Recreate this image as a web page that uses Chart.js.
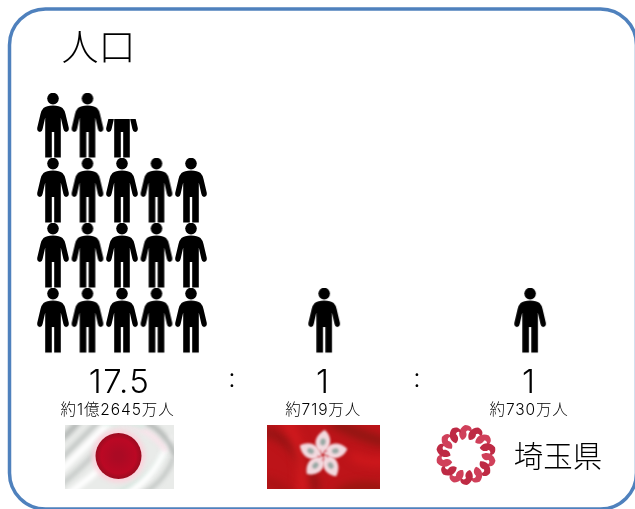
<!DOCTYPE html>
<html>
<head>
<meta charset="utf-8">
<style>
  html, body { margin: 0; padding: 0; background: #fff; overflow: hidden; }
  #wrap { position: relative; width: 635px; height: 509px; }
</style>
<script src="https://cdn.jsdelivr.net/npm/chart.js@4/dist/chart.umd.min.js"></script>
</head>
<body>
<div id="wrap"><canvas id="chart"></canvas></div>
<script>
/* ── Data ──────────────────────────────────────────────────── */
const chartTitle  = '人口';
const categories  = ['日本', '香港', '埼玉県'];
const ratios      = [17.5, 1, 1];
const ratioLabels = ['17.5', '1', '1'];
const popLabels   = ['約1億2645万人', '約719万人', '約730万人'];

/* ── Layout (in axis units: one unit = one person slot) ────── */
const PER_ROW = 5;
const GROUP_X = [0, 7.86, 13.83];
const FONT = 'Inter, "Noto Sans CJK JP", sans-serif';
const BORDER = '#4f81bd';

/* ── Person icon ───────────────────────────────────────────── */
function personIcon(clipTop) {
  const c = document.createElement('canvas');
  c.width = 34; c.height = 66;
  const g = c.getContext('2d');
  if (clipTop) { g.beginPath(); g.rect(0, clipTop, 34, 66); g.clip(); }
  g.fillStyle = '#000';
  g.beginPath(); g.arc(17, 5.6, 5.8, 0, Math.PI * 2); g.fill();
  g.beginPath();
  g.moveTo(17, 12.4);
  g.quadraticCurveTo(23.5, 12.4, 26.5, 15);
  g.quadraticCurveTo(28.5, 17, 29.5, 21);
  g.lineTo(32.8, 35);
  g.quadraticCurveTo(33.2, 38.6, 30, 39);
  g.quadraticCurveTo(28, 39, 27.4, 36);
  g.lineTo(24.8, 24.5);
  g.lineTo(24.8, 64.5);
  g.lineTo(18.2, 64.5);
  g.lineTo(18.2, 39);
  g.lineTo(15.8, 39);
  g.lineTo(15.8, 64.5);
  g.lineTo(9.2, 64.5);
  g.lineTo(9.2, 24.5);
  g.lineTo(6.6, 36);
  g.quadraticCurveTo(6, 39, 4, 39);
  g.quadraticCurveTo(0.8, 38.6, 1.2, 35);
  g.lineTo(4.5, 21);
  g.quadraticCurveTo(5.5, 17, 7.5, 15);
  g.quadraticCurveTo(10.5, 12.4, 17, 12.4);
  g.closePath();
  g.fill();
  return c;
}
const fullPerson = personIcon(0);
const partPerson = personIcon(26);

/* One point per person, stacked upward from the bottom row */
const points = [];
const styles = [];
ratios.forEach((r, i) => {
  const n = Math.ceil(r);
  for (let k = 0; k < n; k++) {
    points.push({ x: GROUP_X[i] + (k % PER_ROW), y: Math.floor(k / PER_ROW) });
    styles.push(k + 1 > r ? partPerson : fullPerson);
  }
});

/* ── Pictures under each group ─────────────────────────────── */
function drawJapanFlag(ctx, x, y, w, h) {
  ctx.save();
  ctx.beginPath(); ctx.rect(x, y, w, h); ctx.clip();
  ctx.fillStyle = '#e9ebe9';
  ctx.fillRect(x, y, w, h);
  ctx.filter = 'blur(2px)';
  ctx.lineCap = 'round';
  const waves = [
    ['#b4b8b6', 6, [-4, 14, 4, 8, 14, -4]],
    ['#c2c6c4', 5, [-4, 34, 14, 16, 34, -4]],
    ['#ffffff', 6, [-4, 46, 18, 24, 44, -2]],
    ['#c6cac8', 5, [-4, 60, 16, 44, 40, 18]],
    ['#ffffff', 6, [2, 70, 24, 54, 44, 36]],
    ['#d4e6de', 4, [44, 70, 84, 58, 100, 26]],
    ['#ffffff', 6, [60, 70, 92, 52, 104, 14]],
    ['#c0c4c2', 4, [76, 70, 100, 56, 108, 34]],
    ['#f7e4ea', 6, [54, -2, 84, 2, 100, 24]],
    ['#b2b6b4', 5, [82, -2, 100, 6, 110, 30]],
    ['#d6eae2', 4, [40, -2, 60, -4, 78, 2]],
  ];
  waves.forEach(([col, lw, p]) => {
    ctx.strokeStyle = col;
    ctx.lineWidth = lw;
    ctx.beginPath();
    ctx.moveTo(x + p[0], y + p[1]);
    ctx.quadraticCurveTo(x + p[2], y + p[3], x + p[4], y + p[5]);
    ctx.stroke();
  });
  ctx.filter = 'blur(2px)';
  ctx.fillStyle = '#fbd3dc';
  ctx.beginPath(); ctx.arc(x + 53.5, y + 31, 26.5, 0, Math.PI * 2); ctx.fill();
  ctx.filter = 'blur(0.7px)';
  const red = ctx.createRadialGradient(x + 53.5, y + 31, 4, x + 53.5, y + 31, 23);
  red.addColorStop(0, '#ab0a24');
  red.addColorStop(0.7, '#bb0824');
  red.addColorStop(1, '#9a0c20');
  ctx.fillStyle = red;
  ctx.beginPath(); ctx.arc(x + 53.5, y + 31, 23, 0, Math.PI * 2); ctx.fill();
  ctx.restore();
}

function drawHongKongFlag(ctx, x, y, w, h) {
  ctx.save();
  ctx.beginPath(); ctx.rect(x, y, w, h); ctx.clip();
  ctx.fillStyle = '#bd1419';
  ctx.fillRect(x, y, w, h);
  ctx.filter = 'blur(4px)';
  const streaks = [
    ['#931414', 9, [-6, 6, 30, 10, 50, 66]],
    ['#d11a1e', 10, [18, -4, 40, 20, 34, 70]],
    ['#8e1612', 10, [64, -4, 90, 10, 120, 18]],
    ['#d0181c', 9, [84, 30, 100, 40, 120, 36]],
    ['#96170f', 10, [70, 70, 92, 56, 120, 66]],
    ['#a51314', 8, [-4, 56, 14, 60, 24, 70]],
  ];
  streaks.forEach(([col, lw, p]) => {
    ctx.strokeStyle = col;
    ctx.lineWidth = lw;
    ctx.beginPath();
    ctx.moveTo(x + p[0], y + p[1]);
    ctx.quadraticCurveTo(x + p[2], y + p[3], x + p[4], y + p[5]);
    ctx.stroke();
  });
  const cx = x + 56, cy = y + 30;
  ctx.filter = 'blur(0.8px)';
  for (let i = 0; i < 5; i++) {
    ctx.save();
    ctx.translate(cx, cy);
    ctx.rotate((i * 72 + 2) * Math.PI / 180);
    ctx.fillStyle = '#f2d9de';
    ctx.beginPath();
    ctx.moveTo(-1, -1);
    ctx.bezierCurveTo(-11, -7, -10, -19, 1, -25);
    ctx.bezierCurveTo(9, -18, 9, -8, -1, -1);
    ctx.fill();
    ctx.fillStyle = '#98a8a4';
    ctx.beginPath();
    ctx.ellipse(-0.5, -13, 2.6, 3.4, 0.1, 0, Math.PI * 2);
    ctx.fill();
    ctx.fillStyle = '#d04a58';
    ctx.fillRect(-3.5, -5, 1.2, 3);
    ctx.restore();
  }
  ctx.restore();
}

function drawEmblem(ctx, cx, cy) {
  ctx.save();
  ctx.filter = 'blur(0.7px)';
  for (let i = 0; i < 14; i++) {
    ctx.save();
    ctx.translate(cx, cy);
    ctx.rotate(i * Math.PI / 7);
    ctx.fillStyle = i % 2 ? '#be2a44' : '#d0405a';
    ctx.beginPath();
    ctx.moveTo(-4, -15);
    ctx.bezierCurveTo(-9, -20, -7, -27, -1, -30);
    ctx.bezierCurveTo(5, -30, 7, -26, 5, -22);
    ctx.bezierCurveTo(4, -25, 1, -25, 0, -23);
    ctx.bezierCurveTo(1.5, -20, 0, -16, -4, -15);
    ctx.fill();
    ctx.restore();
  }
  ctx.restore();
}

/* ── Frame, labels and pictures ────────────────────────────── */
const framePlugin = {
  id: 'frame',
  beforeDraw(chart) {
    const { ctx } = chart;
    ctx.save();
    ctx.fillStyle = '#fff';
    ctx.fillRect(0, 0, chart.width, chart.height);
    ctx.strokeStyle = BORDER;
    ctx.lineWidth = 3.5;
    ctx.beginPath();
    ctx.roundRect(9.5, 9, 627, 500, 36);
    ctx.stroke();
    ctx.restore();
  },
};

const labelPlugin = {
  id: 'labels',
  afterDraw(chart) {
    const { ctx, scales: { x, y } } = chart;
    const centers = [x.getPixelForValue(1.9), x.getPixelForValue(GROUP_X[1]), x.getPixelForValue(GROUP_X[2])];
    ctx.save();
    ctx.fillStyle = '#000';
    ctx.textBaseline = 'middle';
    ctx.textAlign = 'center';
    ctx.font = '300 37px ' + FONT;
    ctx.fillText(chartTitle, 98.5, 50);
    ratios.forEach((r, i) => {
      ctx.font = '300 33px ' + FONT;
      ctx.letterSpacing = '1.5px';
      ctx.fillText(ratioLabels[i], centers[i] - (i ? 1 : -1), y.getPixelForValue(-0.95));
      ctx.font = '300 15.5px ' + FONT;
      ctx.letterSpacing = '0.9px';
      ctx.fillText(popLabels[i], centers[i] - 1, y.getPixelForValue(-1.37));
    });
    ctx.letterSpacing = '0px';
    ctx.font = '300 26px ' + FONT;
    ctx.fillText(':', 232, 379);
    ctx.fillText(':', 417, 379);
    ctx.font = '300 29.5px ' + FONT;
    ctx.fillText(categories[2], 558, 458);
    drawJapanFlag(ctx, 65, 425, 109, 64);
    drawHongKongFlag(ctx, 267, 425, 113, 64);
    drawEmblem(ctx, 466, 455);
    ctx.restore();
  },
};

/* ── Chart ─────────────────────────────────────────────────── */
new Chart(document.getElementById('chart'), {
  type: 'scatter',
  data: {
    datasets: [{
      data: points,
      pointStyle: styles,
      pointRadius: 16,
    }],
  },
  options: {
    responsive: true,
    maintainAspectRatio: false,
    animation: false,
    layout: { padding: 0, autoPadding: false },
    plugins: {
      legend: { display: false },
      tooltip: { enabled: false },
    },
    scales: {
      x: { display: false, min: -1.536, max: 16.87 },
      y: { display: false, min: -2.892, max: 4.938 },
    },
  },
  plugins: [framePlugin, labelPlugin],
});
</script>
</body>
</html>
